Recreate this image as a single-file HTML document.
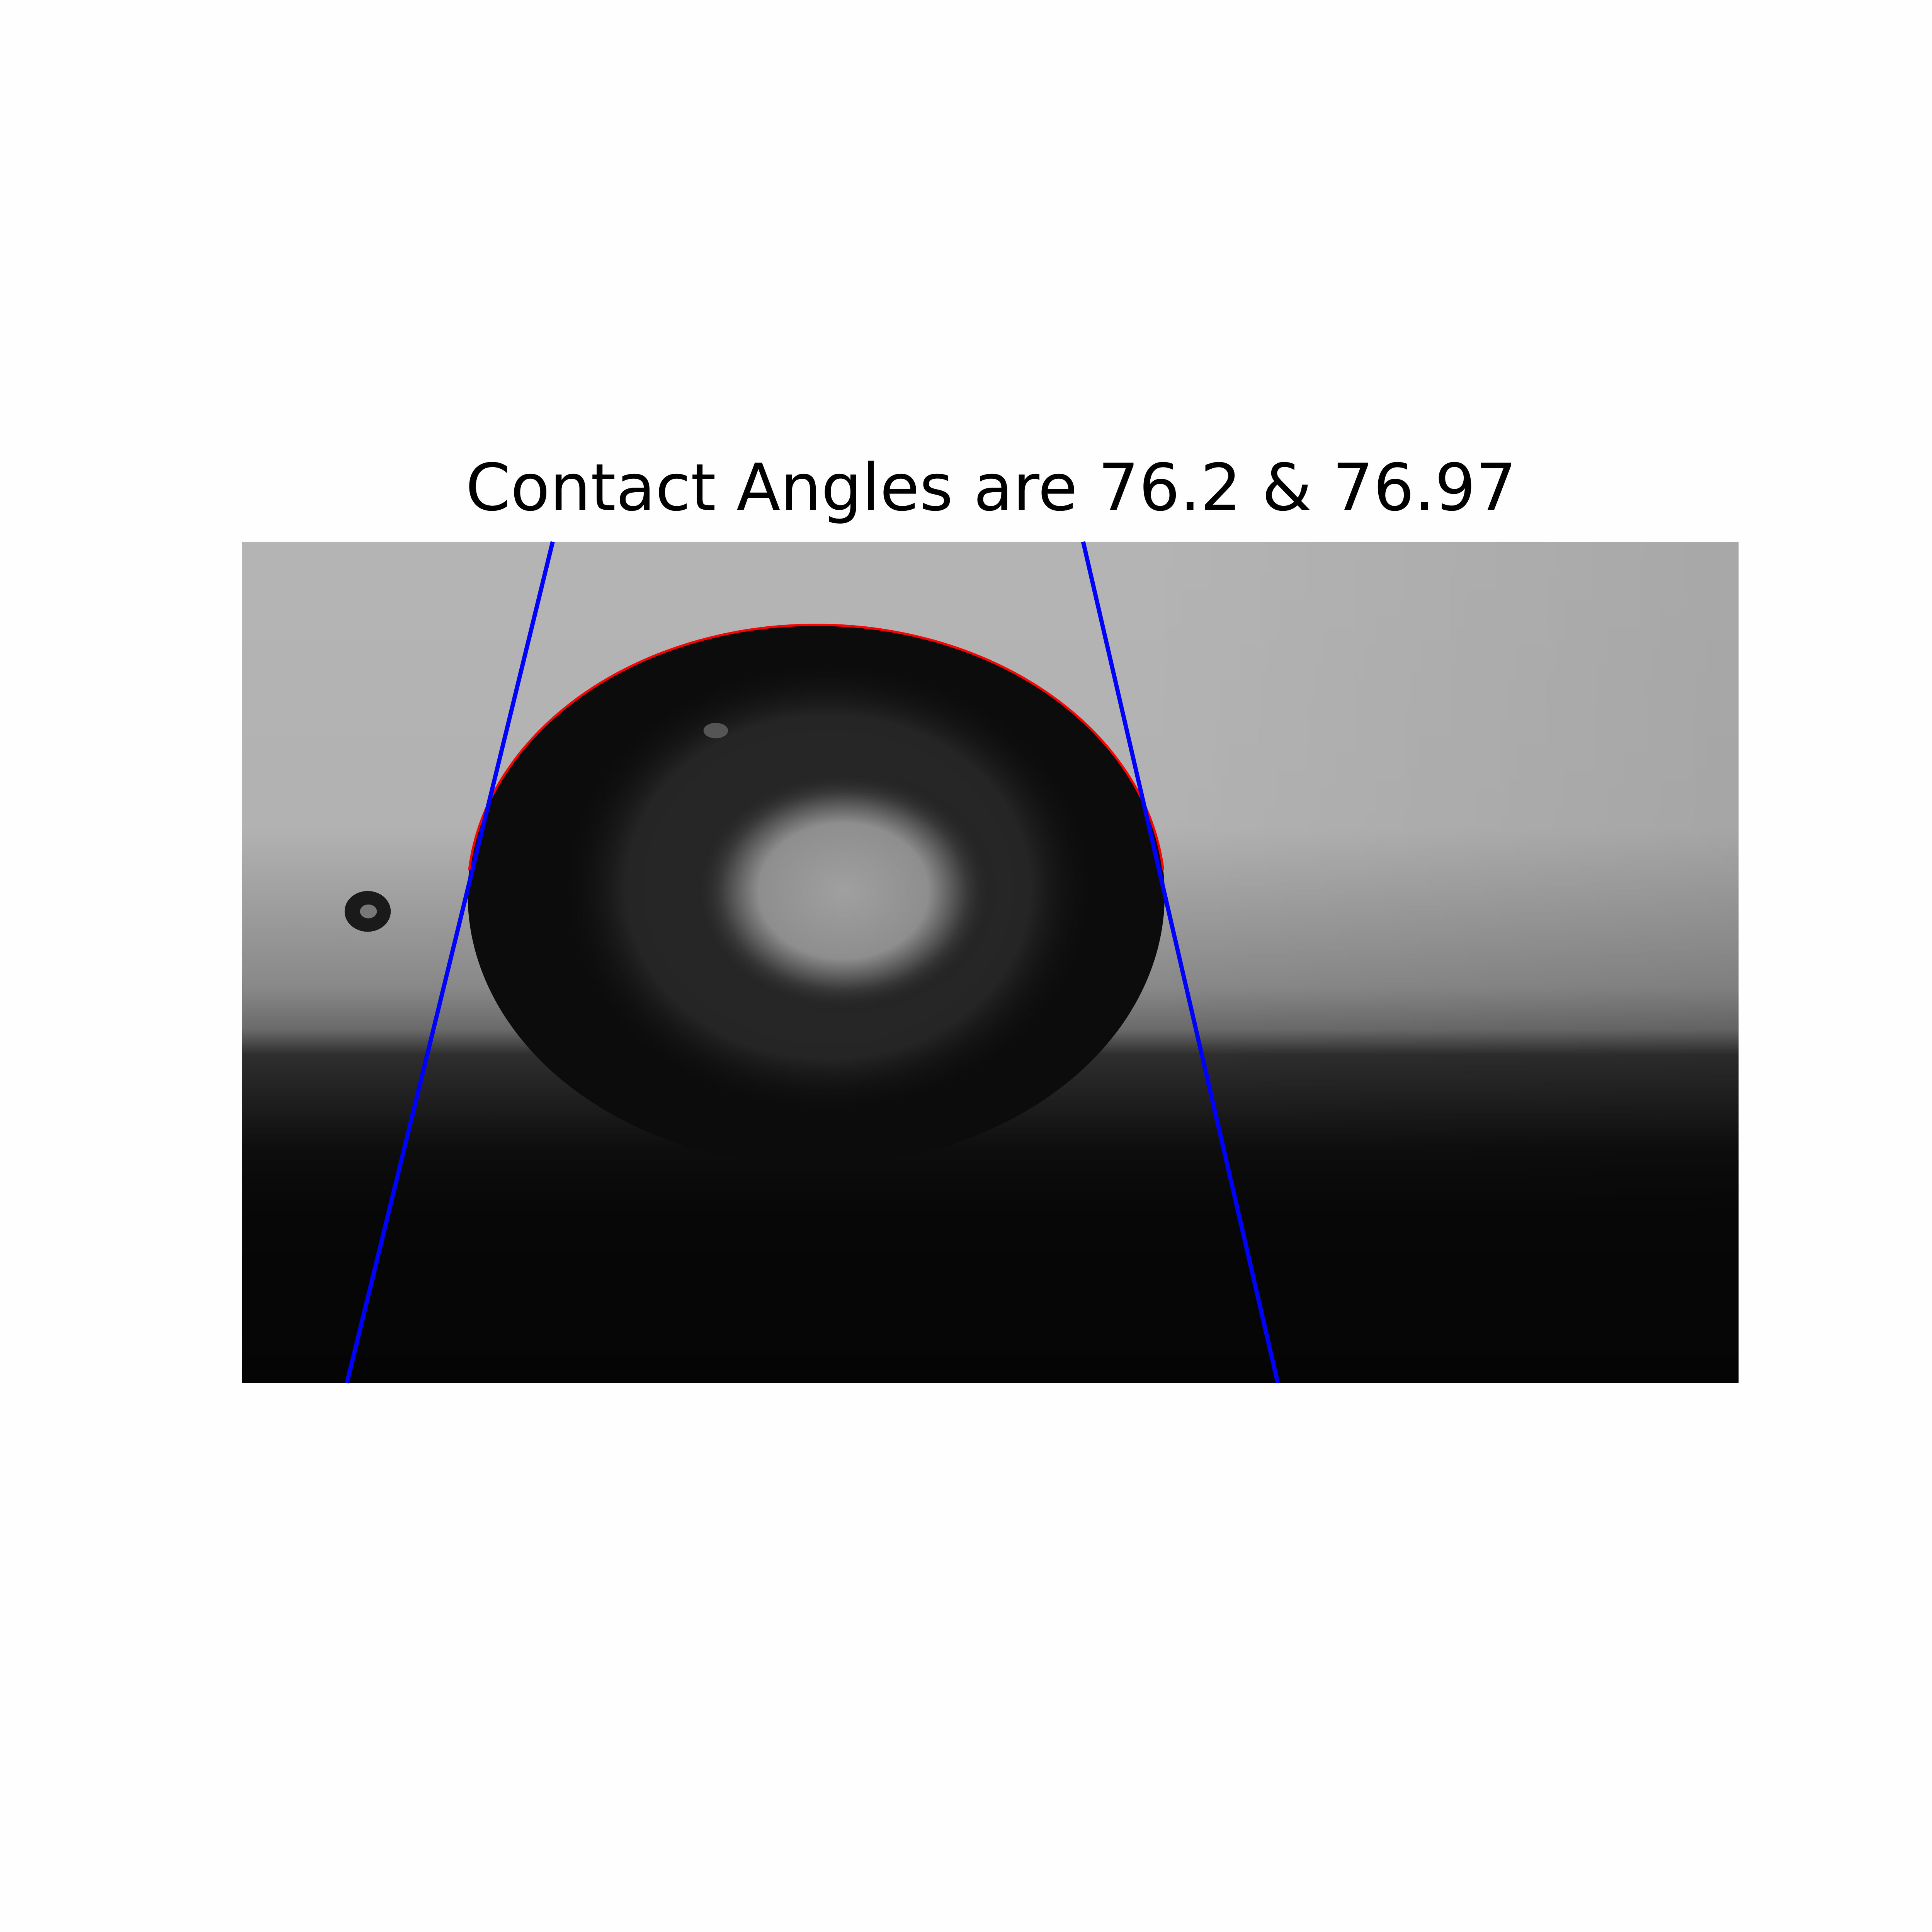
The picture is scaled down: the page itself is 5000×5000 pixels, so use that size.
<!DOCTYPE html>
<html><head><meta charset="utf-8"><style>
html,body{margin:0;padding:0;background:#fefefe}
svg{display:block}
</style></head><body>
<svg id="chart" xmlns="http://www.w3.org/2000/svg" width="5000" height="5000" viewBox="0 0 5000 5000">
<defs>
<linearGradient id="bgV" x1="0" y1="1402" x2="0" y2="3589" gradientUnits="userSpaceOnUse">
<stop offset="0" stop-color="#b4b4b4"/>
<stop offset="0.34" stop-color="#b2b2b2"/>
<stop offset="0.45" stop-color="#9a9a9a"/>
<stop offset="0.53" stop-color="#888"/>
<stop offset="0.58" stop-color="#6a6a6a"/>
<stop offset="0.61" stop-color="#2e2e2e"/>
<stop offset="0.66" stop-color="#202020"/>
<stop offset="0.72" stop-color="#0e0e0e"/>
<stop offset="0.8" stop-color="#070707"/>
<stop offset="1" stop-color="#050505"/>
</linearGradient>
<linearGradient id="bgH" x1="627" y1="0" x2="4517" y2="0" gradientUnits="userSpaceOnUse">
<stop offset="0" stop-color="#000" stop-opacity="0"/>
<stop offset="0.6" stop-color="#000" stop-opacity="0"/>
<stop offset="1" stop-color="#000" stop-opacity="0.07"/>
</linearGradient>
<radialGradient id="hl" cx="2190" cy="2310" r="400" gradientUnits="userSpaceOnUse" gradientTransform="translate(2190 2310) scale(1 0.8) translate(-2190 -2310)">
<stop offset="0" stop-color="#a0a0a0"/>
<stop offset="0.55" stop-color="#8e8e8e"/>
<stop offset="0.8" stop-color="#3a3a3a"/>
<stop offset="1" stop-color="#1a1a1a" stop-opacity="0"/>
</radialGradient>
<radialGradient id="ring" cx="2150" cy="2300" r="700" gradientUnits="userSpaceOnUse" gradientTransform="translate(2150 2300) scale(1 0.85) translate(-2150 -2300)">
<stop offset="0" stop-color="#2a2a2a"/>
<stop offset="0.75" stop-color="#252525"/>
<stop offset="1" stop-color="#0c0c0c" stop-opacity="0"/>
</radialGradient>
</defs>
<text x="2565" y="1320" text-anchor="middle" font-family="DejaVu Sans, Liberation Sans, sans-serif" font-size="168" fill="#000" textLength="2720" lengthAdjust="spacingAndGlyphs">Contact Angles are 76.2 &amp; 76.97</text>
<g transform="translate(627 1402) scale(0.9955) translate(-627 -1402)">
<g id="img">
<rect x="627" y="1402" width="3890" height="2187" fill="url(#bgV)"/>
<rect x="627" y="1402" width="3890" height="2187" fill="url(#bgH)"/>
<ellipse cx="2119" cy="2320" rx="906" ry="704" fill="#0c0c0c"/>
<ellipse cx="2150" cy="2300" rx="700" ry="600" fill="url(#ring)"/>
<ellipse cx="2190" cy="2310" rx="400" ry="330" fill="url(#hl)"/>
<ellipse cx="1858" cy="1893" rx="32" ry="20" fill="#555"/>
<ellipse cx="953" cy="2363" rx="60" ry="53" fill="#1a1a1a"/>
<ellipse cx="955" cy="2363" rx="22" ry="18" fill="#777"/>
</g>
<g id="marks"></g>
</g>
</svg>
<script>
// contact-fit data (pixel coordinates of the source photograph, 3890x2187 frame)
const leftTangent = [[807, 0], [272, 2187]];
const rightTangent = [[2186, 0], [2692, 2187]];
const fitArc = [[590, 854], [1492, 214], [2394, 854]];
const arcRadii = [906, 704];
const imgX0 = 627, imgY0 = 1402;
function sx(v){return imgX0 + v;}
function sy(v){return imgY0 + v;}
const g = document.getElementById('marks');
const NS = 'http://www.w3.org/2000/svg';
function addLine(pts, name){
  const l = document.createElementNS(NS, 'line');
  l.setAttribute('x1', sx(pts[0][0])); l.setAttribute('y1', sy(pts[0][1]));
  l.setAttribute('x2', sx(pts[1][0])); l.setAttribute('y2', sy(pts[1][1]));
  l.setAttribute('stroke', '#0000ff'); l.setAttribute('stroke-width', '11');
  
  
  g.appendChild(l);
}
const arc = document.createElementNS(NS, 'path');
arc.setAttribute('d', 'M' + sx(fitArc[0][0]) + ' ' + sy(fitArc[0][1]) + ' A' + arcRadii[0] + ' ' + arcRadii[1] + ' 0 0 1 ' + sx(fitArc[2][0]) + ' ' + sy(fitArc[2][1]));
arc.setAttribute('fill', 'none'); arc.setAttribute('stroke', '#ff0000'); arc.setAttribute('stroke-width', '6');


g.appendChild(arc);
addLine(leftTangent, 'left-tangent-line');
addLine(rightTangent, 'right-tangent-line');
</script>
</body></html>
